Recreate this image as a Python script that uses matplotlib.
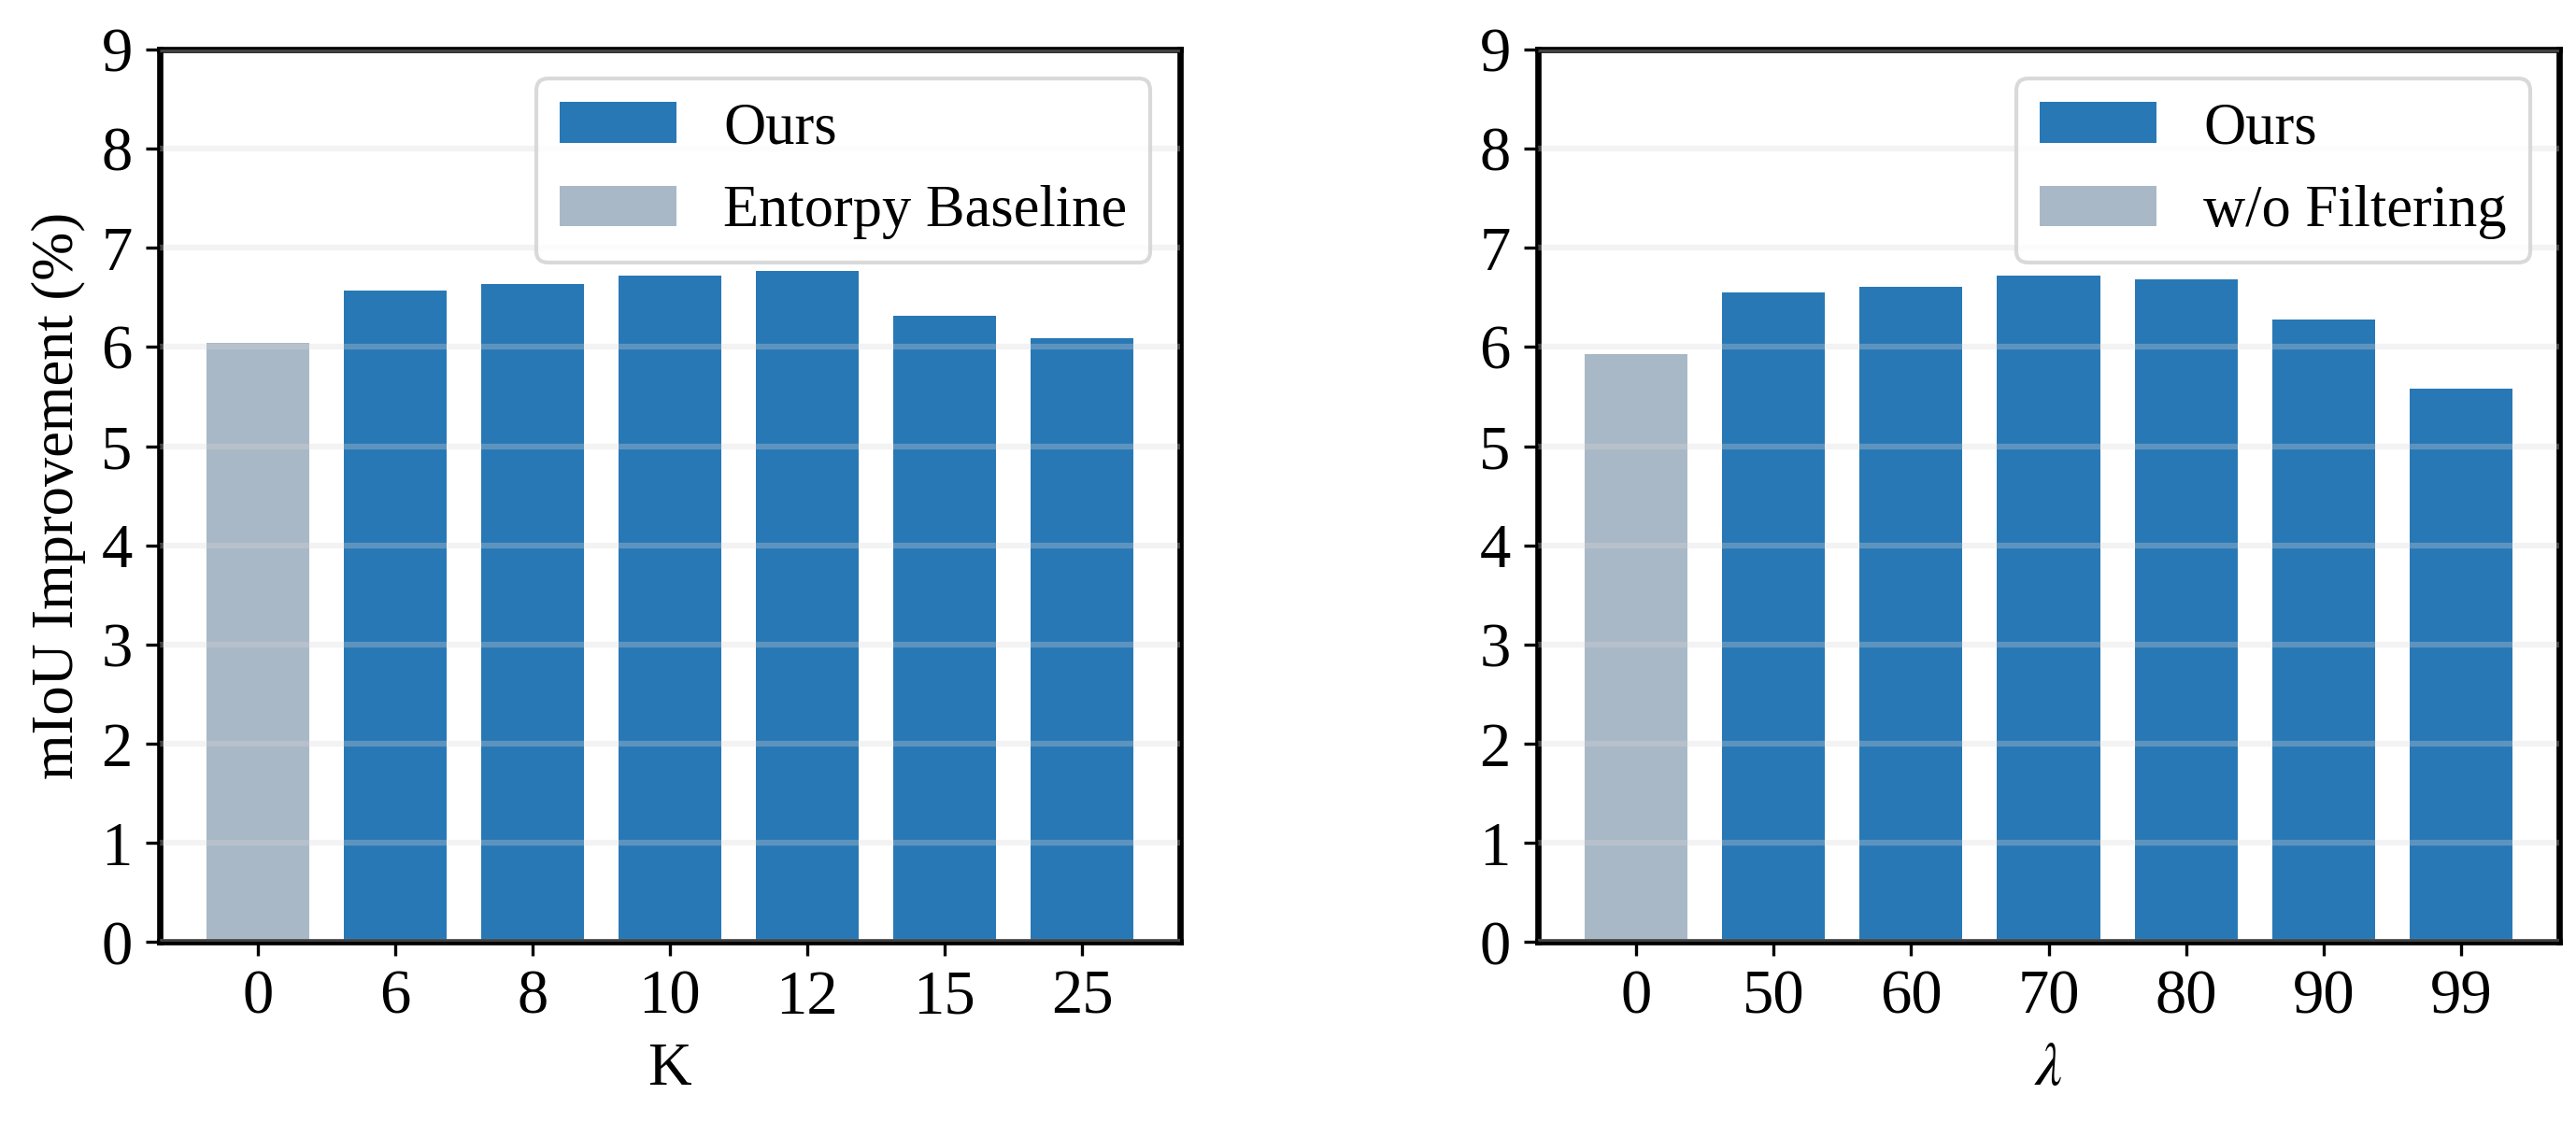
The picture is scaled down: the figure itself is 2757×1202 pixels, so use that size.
import matplotlib
matplotlib.use("Agg")
import matplotlib.pyplot as plt

plt.rcParams['font.family'] = ['Liberation Serif', 'DejaVu Serif']
plt.rcParams['mathtext.fontset'] = 'stix'
plt.rcParams['font.size'] = 16

blue = '#2878b5'
grey = '#a9b8c6'

k_labels = ['0', '6', '8', '10', '12', '15', '25']
k_values = [6.04, 6.57, 6.63, 6.72, 6.77, 6.31, 6.09]

lam_labels = ['0', '50', '60', '70', '80', '90', '99']
lam_values = [5.93, 6.55, 6.61, 6.72, 6.68, 6.28, 5.58]


def drawPanel(ax, labels, values, baselineName, xlabel):
    x = list(range(len(labels)))
    ax.bar(x[0], values[0], width=0.75, color=grey, label=baselineName, zorder=2)
    ax.bar(x[1:], values[1:], width=0.75, color=blue, label='Ours', zorder=2)
    ax.set_xticks(x)
    ax.set_xticklabels(labels)
    ax.set_ylim(0, 9)
    ax.set_yticks(range(10))
    ax.yaxis.grid(True, color='#d8d8d8', alpha=0.3, linewidth=1.5, zorder=3)
    ax.set_axisbelow(False)
    ax.set_xlabel(xlabel, fontsize=15.5)
    for s in ax.spines.values():
        s.set_linewidth(1.6)
    ax.tick_params(labelsize=16)
    h, l = ax.get_legend_handles_labels()
    ax.legend(h[::-1], l[::-1], loc='upper right', fontsize=15,
              handlelength=2.0, handletextpad=0.8, edgecolor='#d0d0d0')


fig = plt.figure(figsize=(9.19, 4.007), dpi=300)
ax1 = fig.add_axes([0.062, 0.161, 0.396, 0.795])
ax2 = fig.add_axes([0.597, 0.161, 0.3965, 0.795])

drawPanel(ax1, k_labels, k_values, 'Entorpy Baseline', 'K')
drawPanel(ax2, lam_labels, lam_values, 'w/o Filtering', r'$\lambda$')
ax1.set_ylabel('mIoU Improvement (%)', fontsize=15)

fig.savefig('out.png', dpi=300)
